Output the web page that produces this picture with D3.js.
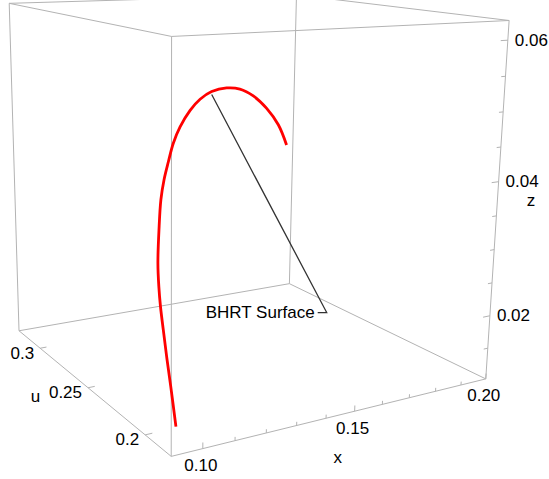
<!DOCTYPE html>
<html><head><meta charset="utf-8">
<script src="https://cdn.jsdelivr.net/npm/d3@7"></script>
<style>body{margin:0;background:#fff}</style>
</head><body><div id="chart"></div>
<script>
// Size
const W = 549, H = 479;
const FONT = '"Liberation Sans", Arial, sans-serif';

// Data: the trajectory, one value per sample
const xVals = [0.0925, 0.0960, 0.0985, 0.1008, 0.1028, 0.1047, 0.1073, 0.1117, 0.1160, 0.1196, 0.1234,
  0.1275, 0.1322, 0.1383, 0.1439, 0.1501, 0.1580, 0.1651, 0.1727, 0.1811, 0.1893, 0.1965];
const uVals = [0.1815, 0.1941, 0.2035, 0.2119, 0.2192, 0.2254, 0.2328, 0.2431, 0.2524, 0.2588, 0.2646,
  0.2706, 0.2762, 0.2822, 0.2868, 0.2911, 0.2960, 0.3001, 0.3047, 0.3105, 0.3168, 0.3236];
const zVals = [0.0138, 0.0172, 0.0199, 0.0224, 0.0247, 0.0268, 0.0293, 0.0329, 0.0363, 0.0386, 0.0407,
  0.0429, 0.0449, 0.0469, 0.0482, 0.0490, 0.0491, 0.0485, 0.0469, 0.0442, 0.0407, 0.0364];

// Axis ranges and ticks
const xDomain = [0.0905, 0.20];
const uDomain = [0.180, 0.325];
const zDomain = [0.0102, 0.0627];
const xMajor = [0.10, 0.15, 0.20];
const uMajor = [0.2, 0.25, 0.3];
const zMajor = [0.02, 0.04, 0.06];
const CALLOUT = 'BHRT Surface';
const CALLOUT_INDEX = 15;

// Camera: screen position of the 8 box corners, a perspective fitted to them
const corners = [
  [0, 0, 0, 170.7, 456.7], [1, 0, 0, 486, 378.5], [0, 1, 0, 19.3, 330.5], [1, 1, 0, 289.3, 284],
  [0, 0, 1, 172, 36], [1, 0, 1, 509, 21], [0, 1, 1, 9, 3.7], [1, 1, 1, 296.5, -5.5]
];

function solve(M, r) {
  const n = r.length, A = M.map((row, i) => row.concat([r[i]]));
  for (let i = 0; i < n; i++) {
    let p = i;
    for (let k = i + 1; k < n; k++) if (Math.abs(A[k][i]) > Math.abs(A[p][i])) p = k;
    [A[i], A[p]] = [A[p], A[i]];
    for (let k = i + 1; k < n; k++) {
      const f = A[k][i] / A[i][i];
      for (let j = i; j <= n; j++) A[k][j] -= f * A[i][j];
    }
  }
  const x = new Array(n).fill(0);
  for (let i = n - 1; i >= 0; i--) {
    let s = A[i][n];
    for (let j = i + 1; j < n; j++) s -= A[i][j] * x[j];
    x[i] = s / A[i][i];
  }
  return x;
}

const rows = [], rhs = [];
corners.forEach(([a, b, c, u, v]) => {
  rows.push([a, b, c, 1, 0, 0, 0, 0, -u * a, -u * b, -u * c]); rhs.push(u);
  rows.push([0, 0, 0, 0, a, b, c, 1, -v * a, -v * b, -v * c]); rhs.push(v);
});
const M = d3.range(11).map(i => d3.range(11).map(j => d3.sum(rows, r => r[i] * r[j])));
const R = d3.range(11).map(i => d3.sum(rows, (r, k) => r[i] * rhs[k]));
const P = solve(M, R);
function proj(a, b, c) {
  const w = P[8] * a + P[9] * b + P[10] * c + 1;
  return [(P[0] * a + P[1] * b + P[2] * c + P[3]) / w, (P[4] * a + P[5] * b + P[6] * c + P[7]) / w];
}

// Scales to the unit box
const xS = d3.scaleLinear().domain(xDomain).range([0, 1]);
const uS = d3.scaleLinear().domain(uDomain).range([0, 1]);
const zS = d3.scaleLinear().domain(zDomain).range([0, 1]);

// SVG
const svg = d3.select('#chart').append('svg').attr('width', W).attr('height', H);
const seg = (g, p, q, stroke, width) => {
  const A = proj(...p), B = proj(...q);
  g.append('line').attr('x1', A[0]).attr('y1', A[1]).attr('x2', B[0]).attr('y2', B[1])
    .attr('stroke', stroke).attr('stroke-width', width);
};

// Box
const box = svg.append('g');
const edges = [
  [[0, 0, 0], [1, 0, 0]], [[0, 0, 0], [0, 1, 0]], [[1, 0, 0], [1, 1, 0]], [[0, 1, 0], [1, 1, 0]],
  [[0, 0, 1], [1, 0, 1]], [[0, 0, 1], [0, 1, 1]], [[1, 0, 1], [1, 1, 1]], [[0, 1, 1], [1, 1, 1]],
  [[0, 0, 0], [0, 0, 1]], [[1, 0, 0], [1, 0, 1]], [[0, 1, 0], [0, 1, 1]], [[1, 1, 0], [1, 1, 1]]
];
edges.forEach(([p, q]) => seg(box, p, q, '#b3b3b3', 1));

// Ticks
const xMinor = d3.range(0.10, 0.2001, 0.01);
const zMinor = d3.range(0.015, 0.0601, 0.005);
xMinor.forEach(v => {
  const a = xS(v), big = xMajor.some(m => Math.abs(m - v) < 1e-6);
  seg(box, [a, 0, 0], [a, 0, big ? 0.016 : 0.01], '#b3b3b3', 1);
});
uMajor.forEach(v => seg(box, [0, uS(v), 0], [0.02, uS(v), 0], '#b3b3b3', 1));
zMinor.forEach(v => {
  const c = zS(v), big = zMajor.some(m => Math.abs(m - v) < 1e-6);
  seg(box, [1, 0, c], [big ? 0.975 : 0.985, 0, c], '#b3b3b3', 1);
});

// Tick labels
const labels = svg.append('g').attr('font-family', FONT).attr('font-size', 17).attr('fill', '#000');
xMajor.forEach(v => {
  const p = proj(xS(v), 0, 0);
  labels.append('text').attr('x', p[0] - 2).attr('y', p[1] + 17)
    .attr('text-anchor', 'middle').attr('dominant-baseline', 'central').text(d3.format('.2f')(v));
});
uMajor.forEach(v => {
  const p = proj(0, uS(v), 0);
  labels.append('text').attr('x', p[0] - 6).attr('y', p[1] + 5)
    .attr('text-anchor', 'end').attr('dominant-baseline', 'central').text(String(v));
});
zMajor.forEach(v => {
  const p = proj(1, 0, zS(v));
  labels.append('text').attr('x', p[0] + 7).attr('y', p[1])
    .attr('text-anchor', 'start').attr('dominant-baseline', 'central').text(d3.format('.2f')(v));
});

// Axis titles
const xm = proj(0.5, 0, 0), um = proj(0, 0.5, 0), zm = proj(1, 0, 0.5);
labels.append('text').attr('x', xm[0] - 3.5).attr('y', xm[1] + 43)
  .attr('text-anchor', 'middle').attr('dominant-baseline', 'central').text('x');
labels.append('text').attr('x', um[0] - 50).attr('y', um[1] + 11)
  .attr('text-anchor', 'middle').attr('dominant-baseline', 'central').text('u');
labels.append('text').attr('x', zm[0] + 34).attr('y', zm[1] - 6)
  .attr('text-anchor', 'middle').attr('dominant-baseline', 'central').text('z');

// Curve
const pts = xVals.map((x, i) => proj(xS(x), uS(uVals[i]), zS(zVals[i])));
svg.append('path')
  .attr('d', d3.line().curve(d3.curveCatmullRom)(pts))
  .attr('fill', 'none').attr('stroke', '#ff0000').attr('stroke-width', 2.8)
  .attr('stroke-linecap', 'butt');

// Callout
const anchor = pts[CALLOUT_INDEX];
const a0 = [anchor[0], anchor[1] + 3];
const a1 = [a0[0] + 115, a0[1] + 218];
svg.append('path')
  .attr('d', d3.line()([a0, a1, [a1[0] - 9, a1[1]]]))
  .attr('fill', 'none').attr('stroke', '#333').attr('stroke-width', 1.3);
labels.append('text').attr('x', a1[0] - 12).attr('y', a1[1])
  .attr('text-anchor', 'end').attr('dominant-baseline', 'central').text(CALLOUT);
</script></body></html>
